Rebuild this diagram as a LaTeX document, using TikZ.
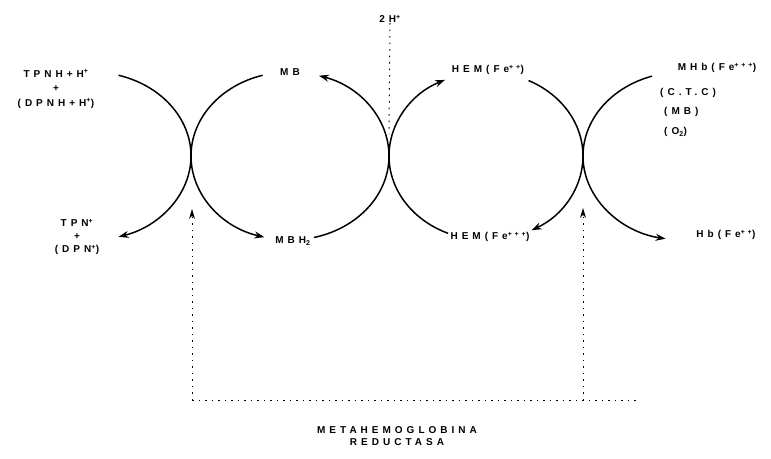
\documentclass[tikz,border=0pt]{standalone}
\usepackage{fontspec}
\setmainfont{Liberation Sans}[LetterSpace=40]
\usetikzlibrary{arrows.meta}
\begin{document}
\begin{tikzpicture}[x=1pt,y=-1pt,
  lbl/.style={font=\fontsize{10}{11}\selectfont\bfseries, inner sep=0pt},
  cyc/.style={line width=1.5pt},
  arr/.style={cyc, -{Stealth[length=10pt,width=7pt]}},
  dots/.style={line width=1pt, dash pattern=on 1.5pt off 5pt},
  darr/.style={dots, -{Stealth[length=10pt,width=6pt]}}]
\path[use as bounding box] (0,0) rectangle (771,458);

% junctions and centres
\coordinate (jL) at (191,156);
\coordinate (jM) at (389,156);
\coordinate (jR) at (583,156);
\coordinate (cL) at (91,156);
\coordinate (cR) at (683,156);

% labels
\node[lbl, align=center, font=\fontsize{10}{14.5}\selectfont\bfseries] (tpnh) at (56,89) {TPNH+H\textsuperscript{+}\\+\\(DPNH+H\textsuperscript{+})};
\node[lbl, align=center, font=\fontsize{10}{13}\selectfont\bfseries] (tpn) at (77,237) {TPN\textsuperscript{+}\\+\\(DPN\textsuperscript{+})};
\node[lbl] (mb) at (290,72) {MB};
\node[lbl] (mbh) at (293,241) {MBH\textsubscript{2}};
\node[lbl] (h2) at (390,19) {2H\textsuperscript{+}};
\node[lbl] (hem2) at (488,70) {HEM(Fe\textsuperscript{++})};
\node[lbl] (hem3) at (490,237) {HEM(Fe\textsuperscript{+++})};
\node[lbl] (mhb) at (717,68) {MHb(Fe\textsuperscript{+++})};
\node[lbl, anchor=west] (ctc) at (660,93) {(C.T.C)};
\node[lbl, anchor=west] (mbx) at (664,112) {(MB)};
\node[lbl, anchor=west] (o2) at (664,132) {(O\textsubscript{2})};
\node[lbl] (hb) at (726,235) {Hb(Fe\textsuperscript{++})};
\node[lbl, align=center, font=\fontsize{10}{12.5}\selectfont\bfseries] (mr) at (397,436) {METAHEMOGLOBINA\\REDUCTASA};

% left outer arc
\draw[arr] ([shift={(286:100 and 84)}]cL) arc[start angle=286,end angle=434,x radius=100,y radius=84];
% left-middle circle
\draw[cyc] (jL) arc[start angle=180,end angle=254,x radius=99,y radius=84];
\draw[arr] (jM) arc[start angle=360,end angle=287,x radius=99,y radius=84];
\draw[arr] (jL) arc[start angle=180,end angle=105,x radius=99,y radius=84];
\draw[cyc] (jM) arc[start angle=0,end angle=76,x radius=99,y radius=84];
% right-middle circle
\draw[arr] (jM) arc[start angle=180,end angle=245,x radius=97,y radius=84];
\draw[cyc] (jR) arc[start angle=360,end angle=296,x radius=97,y radius=84];
\draw[arr] (jR) arc[start angle=0,end angle=62,x radius=97,y radius=84];
\draw[cyc] (jM) arc[start angle=180,end angle=113,x radius=97,y radius=84];
% right outer arc
\draw[arr] ([shift={(252:100 and 84)}]cR) arc[start angle=252,end angle=100,x radius=100,y radius=84];

% dotted lines
\coordinate (h2e) at (389,134);
\coordinate (bl) at (192,400);
\coordinate (br) at (583,400);
\coordinate (bx) at (636,400);
\coordinate (tl) at (192,209);
\coordinate (tr) at (583,208);
\draw[dots] (h2.south) -- (h2e);
\draw[dots] (bl) -- (bx);
\draw[darr] (bl) -- (tl);
\draw[darr] (br) -- (tr);
\end{tikzpicture}
\end{document}
